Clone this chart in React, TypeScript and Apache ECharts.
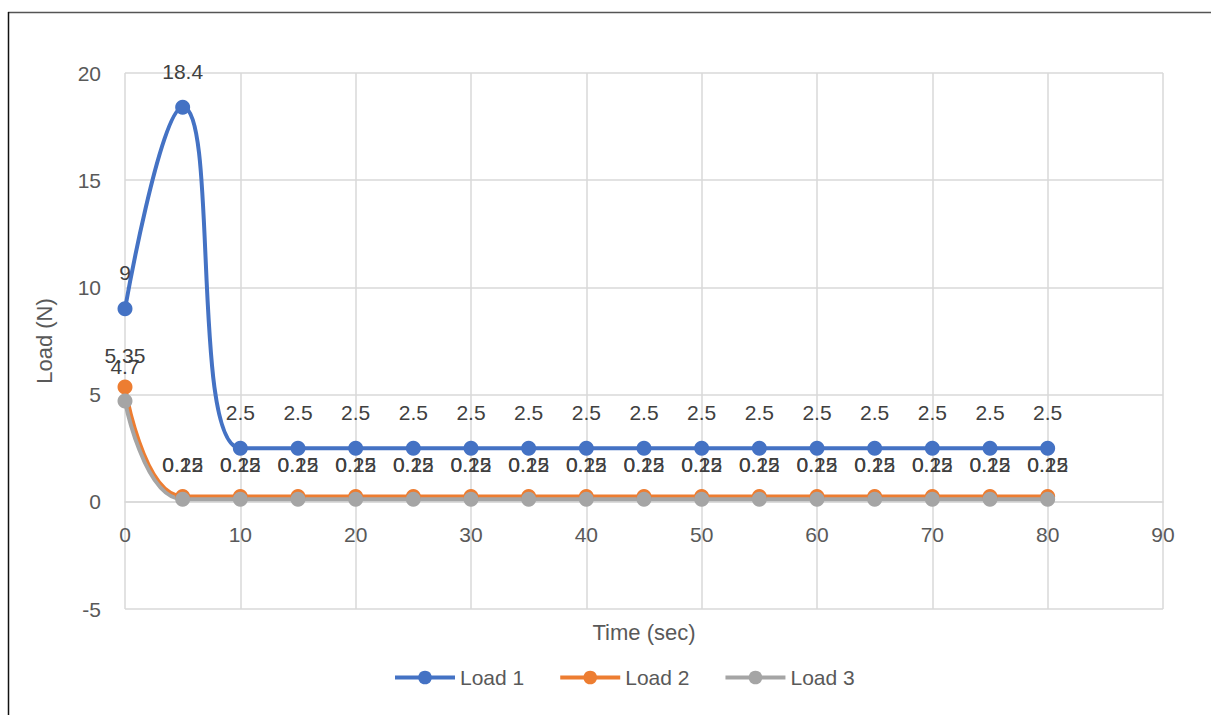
import React, { useEffect, useRef } from "react";
import * as echarts from "echarts";

const times = [0, 5, 10, 15, 20, 25, 30, 35, 40, 45, 50, 55, 60, 65, 70, 75, 80];
const load1 = [9, 18.4, 2.5, 2.5, 2.5, 2.5, 2.5, 2.5, 2.5, 2.5, 2.5, 2.5, 2.5, 2.5, 2.5, 2.5, 2.5];
const load2 = [5.35, 0.25, 0.25, 0.25, 0.25, 0.25, 0.25, 0.25, 0.25, 0.25, 0.25, 0.25, 0.25, 0.25, 0.25, 0.25, 0.25];
const load3 = [4.7, 0.12, 0.12, 0.12, 0.12, 0.12, 0.12, 0.12, 0.12, 0.12, 0.12, 0.12, 0.12, 0.12, 0.12, 0.12, 0.12];
const seriesNames = ["Load 1", "Load 2", "Load 3"];
const colors = ["#4472C4", "#ED7D31", "#A5A5A5"];

const FONT = "Liberation Sans";
const GRID_TOP = 73;
const GRID_BOTTOM = 106;
const Y_MIN = -5;
const Y_MAX = 20;

export default function App() {
  const ref = useRef<HTMLDivElement>(null);
  useEffect(() => {
    if (!ref.current) return;
    const chart = echarts.init(ref.current, undefined, { renderer: "svg" });
    const plotH = 715 - GRID_TOP - GRID_BOTTOM;
    const zeroOffset = -(plotH * (0 - Y_MIN)) / (Y_MAX - Y_MIN);
    const mk = (name: string, vals: number[], color: string, dist: number) => ({
      name,
      type: "line",
      smooth: 0.5,
      data: times.map((t, i) => [t, vals[i]]),
      symbol: "circle",
      symbolSize: 15,
      itemStyle: { color },
      lineStyle: { color, width: 4 },
      label: {
        show: true,
        position: "top",
        distance: dist,
        color: "#404040",
        fontSize: 21,
        fontFamily: FONT,
        formatter: (p: any) => String(p.value[1]),
      },
    });
    chart.setOption({
      animation: false,
      backgroundColor: "#ffffff",
      textStyle: { fontFamily: FONT },
      grid: { left: 125, right: 48, top: GRID_TOP, bottom: GRID_BOTTOM, outerBoundsMode: "none", containLabel: false },
      xAxis: [
        {
          type: "value",
          position: "bottom",
          min: 0,
          max: 90,
          interval: 10,
          offset: zeroOffset,
          axisLine: { show: true, onZero: false, lineStyle: { color: "#D9D9D9", width: 1.5 } },
          axisTick: { show: false },
          axisLabel: { color: "#595959", fontSize: 21, fontFamily: FONT, margin: 22 },
          splitLine: { show: true, lineStyle: { color: "#D9D9D9", width: 1.5 } },
        },
        {
          type: "value",
          position: "bottom",
          min: 0,
          max: 90,
          interval: 10,
          name: "Time (sec)",
          nameLocation: "middle",
          nameGap: 12,
          nameTextStyle: { color: "#595959", fontSize: 22, fontFamily: FONT },
          axisLine: { show: false, onZero: false },
          axisTick: { show: false },
          axisLabel: { show: false },
          splitLine: { show: false },
        },
      ],
      yAxis: {
        type: "value",
        min: Y_MIN,
        max: Y_MAX,
        interval: 5,
        name: "Load (N)",
        nameLocation: "middle",
        nameGap: 70,
        nameTextStyle: { color: "#595959", fontSize: 22, fontFamily: FONT },
        axisLine: { show: false },
        axisTick: { show: false },
        axisLabel: { color: "#595959", fontSize: 21, fontFamily: FONT, margin: 24 },
        splitLine: { show: true, lineStyle: { color: "#D9D9D9", width: 1.5 } },
      },
      legend: {
        data: seriesNames,
        left: 393,
        top: 667,
        padding: 0,
        itemWidth: 60,
        itemHeight: 17,
        itemGap: 34,
        lineStyle: { width: 4 },
        textStyle: { color: "#595959", fontSize: 21, fontFamily: FONT },
      },
      graphic: [
        { type: "line", shape: { x1: 8, y1: 12.5, x2: 1211, y2: 12.5 }, style: { stroke: "#555555", lineWidth: 1.5 } },
        { type: "line", shape: { x1: 8.5, y1: 12, x2: 8.5, y2: 715 }, style: { stroke: "#111111", lineWidth: 1.5 } },
      ],
      series: [
        mk(seriesNames[0], load1, colors[0], 18),
        mk(seriesNames[1], load2, colors[1], 14),
        mk(seriesNames[2], load3, colors[2], 17),
      ],
    });
    return () => chart.dispose();
  }, []);
  return <div ref={ref} style={{ width: 1211, height: 715, position: "absolute", left: 0, top: 0 }} />;
}
